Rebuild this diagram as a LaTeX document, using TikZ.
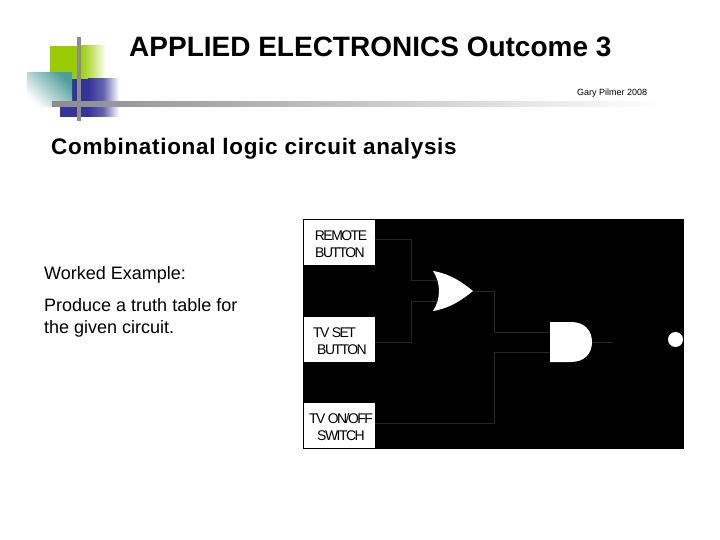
\documentclass[tikz,border=0pt]{standalone}
\usepackage{fontspec}
\setmainfont{Liberation Sans}
\newfontfamily\tightfont[LetterSpace=-11]{Liberation Sans}
\newfontfamily\wideheading[LetterSpace=3]{Liberation Sans}
\definecolor{barGrey}{HTML}{8C8C8C}
\definecolor{logoGreen}{HTML}{99CC00}
\definecolor{logoBlue}{HTML}{333399}
\definecolor{logoTeal}{HTML}{4F9C9C}
\definecolor{wireGrey}{HTML}{262626}
\newcommand{\firstline}[1]{\rule{0pt}{\dimexpr10pt+#1pt\relax}}
\tikzset{
  inputbox/.style={fill=white,draw=none,inner sep=0pt,minimum width=71pt,align=center,
    font=\tightfont\fontsize{14}{17}\selectfont},
  wire/.style={draw=wireGrey,line width=0.75pt},
  gatefill/.style={fill=white,draw=none},
  txt/.style={inner sep=0pt,anchor=base west,text=black},
  bodytext/.style={txt,font=\fontsize{18}{22}\selectfont}
}
\begin{document}
\begin{tikzpicture}[x=1pt,y=-1pt]
\useasboundingbox (0,0) rectangle (720,540);
\fill[white] (0,0) rectangle (720,540);
% logo
\shade[left color=logoGreen,right color=white,middle color=logoGreen!55] (80,46) rectangle (106,79);
\fill[logoGreen] (50,46) rectangle (80,79);
\shade[left color=logoBlue,right color=white,middle color=logoBlue!75] (88,79) rectangle (119,117);
\fill[logoBlue] (72,79) rectangle (88,107);
\fill[logoBlue] (60,107) rectangle (88,117);
\shade[top color=logoTeal,bottom color=white,shading angle=-45] (27,73) rectangle (72,107);
% bars
\shade[left color=barGrey,right color=white] (52,102) rectangle (660,107);
\fill[barGrey] (77,37) rectangle (81,121);
% texts
\node[txt,font=\bfseries\fontsize{28}{32}\selectfont] (title) at (129,57) {APPLIED ELECTRONICS Outcome 3};
\node[txt,font=\fontsize{9}{10}\selectfont] (author) at (577,96) {Gary Pilmer 2008};
\node[txt,font=\wideheading\bfseries\fontsize{22.5}{26}\selectfont] (heading) at (51,155) {Combinational logic circuit analysis};
\node[bodytext] (worked) at (44,279) {Worked Example:};
\node[bodytext] (task1) at (44,311) {Produce a truth table for};
\node[bodytext] (task2) at (44,333) {the given circuit.};
% circuit panel
\fill[black] (303,219) rectangle (684,449);
\node[inputbox,minimum height=45pt] (remote) at (339.5,242.5) {\firstline{3}\hspace*{3pt}REMOTE\\\hspace*{1pt}BUTTON};
\node[inputbox,minimum height=45pt] (tvset) at (339.5,339.5) {\firstline{3}TV SET\hspace*{10pt}\\\hspace*{5pt}BUTTON};
\node[inputbox,minimum height=45pt] (tvswitch) at (339.5,425.5) {\firstline{3}\hspace*{3pt}TV ON/OFF\\\hspace*{3pt}SWITCH};
% gates
\fill[gatefill] (433,271) .. controls (451,274) and (463,283) .. (473,291)
  .. controls (463,299) and (451,308) .. (433,311)
  .. controls (441,299) and (441,283) .. (433,271) -- cycle;
\fill[gatefill] (550,322) -- (571,322) .. controls (585,322) and (592,331) .. (592,342)
  .. controls (592,353) and (585,362) .. (571,362) -- (550,362) -- cycle;
\coordinate (orA) at (437,280);
\coordinate (orB) at (437,301);
\coordinate (orOut) at (473,291);
\coordinate (andA) at (550,332);
\coordinate (andB) at (550,352);
\coordinate (andOut) at (592,342);
\coordinate (outEnd) at (613,342);
\coordinate (j1a) at (411,239);
\coordinate (j1b) at (411,280);
\coordinate (j2a) at (411,342);
\coordinate (j2b) at (411,301);
\coordinate (j3a) at (494,291);
\coordinate (j3b) at (494,332);
\coordinate (j4a) at (494,423);
\coordinate (j4b) at (494,352);
\draw[wire] (remote.east |- j1a) -- (j1a) -- (j1b) -- (orA);
\draw[wire] (tvset.east |- j2a) -- (j2a) -- (j2b) -- (orB);
\draw[wire] (orOut) -- (j3a) -- (j3b) -- (andA);
\draw[wire] (tvswitch.east |- j4a) -- (j4a) -- (j4b) -- (andB);
\draw[wire] (andOut) -- (outEnd);
\node[circle,fill=white,draw=none,minimum size=15pt,inner sep=0pt] (lamp) at (675.5,339.5) {};
\end{tikzpicture}
\end{document}
